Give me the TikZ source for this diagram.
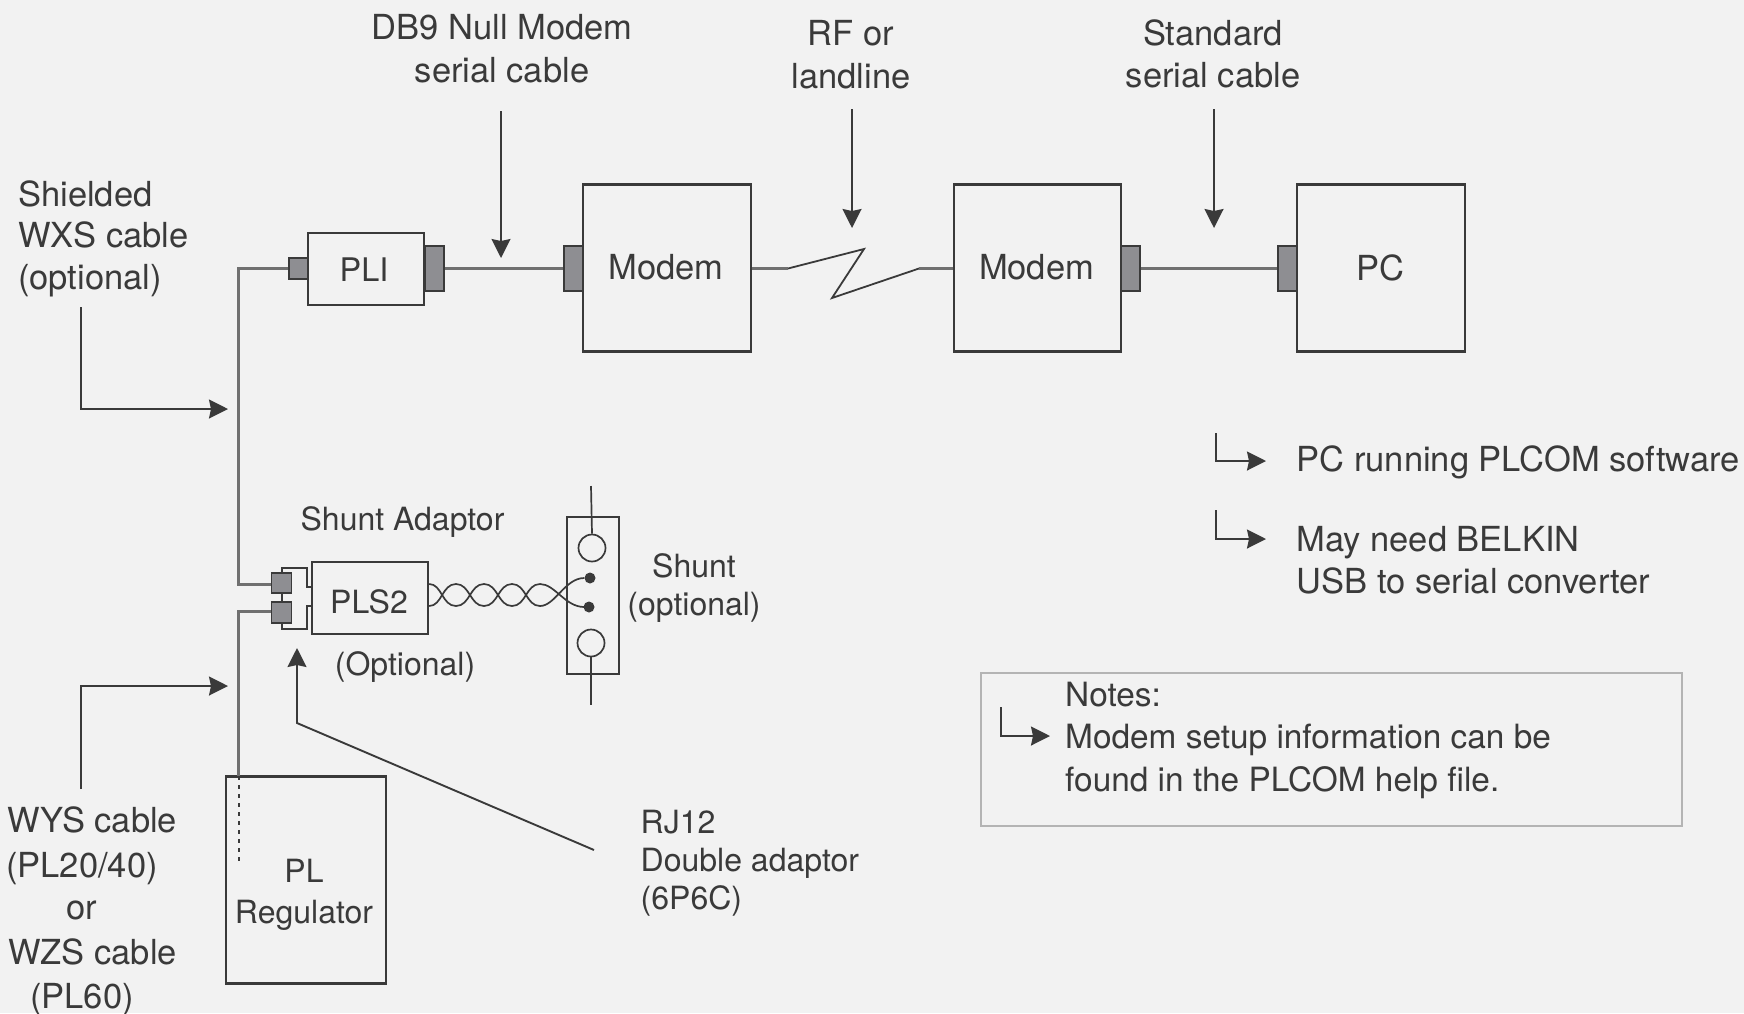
\documentclass[tikz,border=0pt]{standalone}
\usepackage{fontspec}
\setmainfont{TeX Gyre Heros}
\usetikzlibrary{arrows.meta}
\definecolor{bgc}{HTML}{F2F2F2}
\definecolor{ink}{HTML}{3A3A3A}
\definecolor{wire}{HTML}{707070}
\definecolor{plug}{HTML}{8E8E92}
\definecolor{notec}{HTML}{B4B4B4}
\tikzset{
  box/.style={draw=ink,line width=2.3pt,inner sep=0pt,text=ink,font=\fontsize{34.5}{41}\selectfont,align=center},
  plugbox/.style={draw=ink,fill=plug,line width=1.9pt,inner sep=0pt},
  wireline/.style={draw=wire,line width=2.4pt},
  callout/.style={draw=ink,line width=1.9pt,-{Stealth[length=19pt,width=19pt,inset=2pt]}},
  lab/.style={inner sep=0pt,text=ink,font=\fontsize{34.5}{42.5}\selectfont,align=center},
  labl/.style={lab,align=left,anchor=west},
  smalllab/.style={lab,font=\fontsize{32}{38}\selectfont},
}
\begin{document}
\begin{tikzpicture}[x=1pt,y=-1pt]
\useasboundingbox[fill=bgc] (0,0) rectangle (1744,1013);
% boxes
\node[box,minimum width=116pt,minimum height=72pt] (pli) at (366,269) {};
\node[box,minimum width=168pt,minimum height=167pt] (modema) at (667,268) {};
\node[box,minimum width=167pt,minimum height=167pt] (modemb) at (1037.5,268) {};
\node[box,minimum width=168pt,minimum height=167pt] (pc) at (1381,268) {};
\node[box,minimum width=116pt,minimum height=72pt] (pls) at (370,598) {};
\node[box,minimum width=160pt,minimum height=207pt] (reg) at (306,880) {};
\node[box,minimum width=52pt,minimum height=157pt] (shunt) at (593,595.5) {};
\node[lab,font=\fontsize{32.5}{41}\selectfont] (plit) at (364,269.5) {PLI};
\node[lab] (modemat) at (666,267.5) {Modem};
\node[lab] (modembt) at (1036.5,267.5) {Modem};
\node[lab] (pct) at (1380.5,267.5) {PC};
\node[lab,font=\fontsize{32}{41}\selectfont] (plst) at (369,602) {PLS2};
\node[lab,font=\fontsize{32}{41}\selectfont] (regt) at (304,895) {PL\\Regulator};
% plugs
\node[plugbox,minimum width=19pt,minimum height=21pt] (plia) at (298.5,268.5) {};
\node[plugbox,minimum width=19pt,minimum height=45pt] (plib) at (434.5,268.5) {};
\node[plugbox,minimum width=19pt,minimum height=45pt] (moda) at (573.5,268.5) {};
\node[plugbox,minimum width=19pt,minimum height=45pt] (modb) at (1130.5,268.5) {};
\node[plugbox,minimum width=19pt,minimum height=45pt] (pcp) at (1287.5,268.5) {};
\node[plugbox,minimum width=20pt,minimum height=20pt] (jacka) at (281.5,583) {};
\node[plugbox,minimum width=20pt,minimum height=21pt] (jackb) at (281.5,612.5) {};
% coordinates
\coordinate (vtop) at (238.5,268.5);
\coordinate (vmid) at (238.5,584.5);
\coordinate (vlow) at (238.5,611.5);
\coordinate (vreg) at (238.5,776);
\coordinate (vend) at (238.5,861);
\coordinate (zz1) at (788,268.5);
\coordinate (zz2) at (864,249);
\coordinate (zz3) at (832,298);
\coordinate (zz4) at (919,268.5);
% wires
\draw[wireline] (plia.west) -- (vtop) -- (vmid) -- (jacka.west |- vmid);
\draw[wireline] (jackb.west |- vlow) -- (vlow) -- (vreg);
\draw[ink,line width=2pt,dash pattern=on 4pt off 5pt] (vreg) -- (vend);
\draw[wireline] (plib) -- (moda);
\draw[wireline] (modema.east |- zz1) -- (zz1);
\draw[ink,line width=1.8pt,line join=miter] (zz1) -- (zz2) -- (zz3) -- (zz4);
\draw[wireline] (zz4) -- (modemb.west |- zz4);
\draw[wireline] (modb) -- (pcp);
% bracket
\coordinate (bra) at (282,568);
\coordinate (brb) at (307,568);
\coordinate (brc) at (307,587);
\coordinate (brd) at (307,606);
\coordinate (bre) at (307,629);
\coordinate (brf) at (282,629);
\draw[ink,line width=1.7pt] (jacka.north -| bra) -- (bra) -- (brb) -- (brc) -- (pls.west |- brc);
\draw[ink,line width=1.7pt] (jackb.south -| brf) -- (brf) -- (bre) -- (brd) -- (pls.west |- brd);
\draw[ink,line width=1.7pt] (jacka.south -| bra) -- (jackb.north -| bra);
% shunt details
\node[draw=ink,line width=1.7pt,circle,minimum size=27pt,inner sep=0pt] (ca) at (592,548) {};
\node[draw=ink,line width=1.7pt,circle,minimum size=27pt,inner sep=0pt] (cb) at (591,643) {};
\node[fill=ink,circle,minimum size=11pt,inner sep=0pt] (da) at (590,578) {};
\node[fill=ink,circle,minimum size=11pt,inner sep=0pt] (db) at (589,607) {};
\coordinate (sa) at (591,486);
\coordinate (sb) at (591,705);
\draw[ink,line width=1.7pt] (sa) -- (ca.north);
\draw[ink,line width=1.7pt] (cb.south) -- (sb);
% twisted pair
\coordinate (ta) at (pls.east |- 0,584);
\coordinate (tb) at (pls.east |- 0,606);
\draw[ink,line width=1.7pt] (ta)
  .. controls (442,584) and (442,606) .. (456,606)
  .. controls (470,606) and (470,584) .. (484,584)
  .. controls (498,584) and (498,606) .. (512,606)
  .. controls (526,606) and (526,584) .. (540,584)
  .. controls (555,584) and (565,607) .. (da.west |- db);
\draw[ink,line width=1.7pt] (tb)
  .. controls (442,606) and (442,584) .. (456,584)
  .. controls (470,584) and (470,606) .. (484,606)
  .. controls (498,606) and (498,584) .. (512,584)
  .. controls (526,584) and (526,606) .. (540,606)
  .. controls (555,606) and (565,578) .. (da);
% callouts
\coordinate (a1) at (501,111); \coordinate (a1e) at (501,258);
\coordinate (a2) at (852,109); \coordinate (a2e) at (852,228);
\coordinate (a3) at (1214,109); \coordinate (a3e) at (1214,228);
\draw[callout] (a1) -- (a1e);
\draw[callout] (a2) -- (a2e);
\draw[callout] (a3) -- (a3e);
\coordinate (b1) at (81,307); \coordinate (b2) at (81,409); \coordinate (b3) at (228,409);
\draw[callout] (b1) -- (b2) -- (b3);
\coordinate (c1) at (81,789); \coordinate (c2) at (81,686); \coordinate (c3) at (228,686);
\draw[callout] (c1) -- (c2) -- (c3);
\coordinate (d1) at (594,850); \coordinate (d2) at (297,723); \coordinate (d3) at (297,648);
\draw[callout] (d1) -- (d2) -- (d3);
\coordinate (e1) at (1216,433); \coordinate (e2) at (1216,461); \coordinate (e3) at (1266,461);
\draw[callout] (e1) -- (e2) -- (e3);
\coordinate (f1) at (1216,510); \coordinate (f2) at (1216,539); \coordinate (f3) at (1266,539);
\draw[callout] (f1) -- (f2) -- (f3);
% notes
\node[draw=notec,line width=2pt,minimum width=701pt,minimum height=153pt,inner sep=0pt] (notes) at (1331.5,749) {};
\coordinate (g1) at (1001,707); \coordinate (g2) at (1001,736); \coordinate (g3) at (1050,736);
\draw[callout] (g1) -- (g2) -- (g3);
% labels
\node[lab] (t1) at (502,48.5) {DB9 Null Modem\\serial cable};
\node[lab] (t2) at (851,54.5) {RF or\\landline};
\node[lab] (t3) at (1213,54) {Standard\\serial cable};
\node[labl,font=\fontsize{34.5}{41.5}\selectfont] (t4) at (18,238.5) {Shielded\\WXS cable\\(optional)};
\node[smalllab] (t5) at (402.5,522.5) {Shunt Adaptor};
\node[lab,font=\fontsize{32}{38}\selectfont] (t6) at (405,667) {(Optional)};
\node[smalllab] (t7) at (694,588) {Shunt\\(optional)};
\node[labl,font=\fontsize{32}{38}\selectfont] (t8) at (640.5,863) {RJ12\\Double adaptor\\(6P6C)};
\node[labl] (t9) at (1296.5,462) {PC running PLCOM software};
\node[labl] (t10) at (1296.5,560) {May need BELKIN\\USB to serial converter};
\node[labl,font=\fontsize{33.4}{42.5}\selectfont] (t11) at (1065,740) {Notes:\\Modem setup information can be\\found in the PLCOM help file.};
\node[lab] (w1) at (92.5,819.5) {WYS cable};
\node[lab] (w2) at (82,868.5) {(PL20/40)};
\node[lab] (w3) at (81.5,910) {or};
\node[lab] (w4) at (92.5,952) {WZS cable};
\node[lab] (w5) at (82,999.5) {(PL60)};
\end{tikzpicture}
\end{document}
